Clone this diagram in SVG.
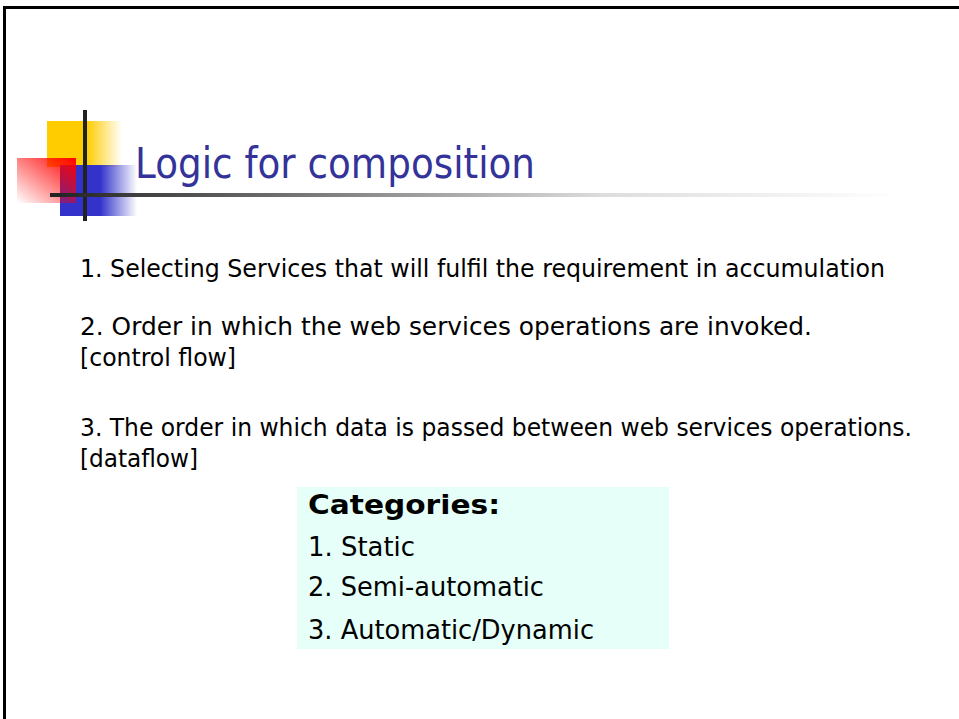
<svg xmlns="http://www.w3.org/2000/svg" width="959" height="719" viewBox="0 0 959 719">
  <style>
    .title { font-family: "DejaVu Sans", "Liberation Sans", sans-serif; font-size: 43px; fill: #333399; }
    .body { font-family: "DejaVu Sans", "Liberation Sans", sans-serif; font-size: 24px; fill: #000000; }
    .cat { font-family: "DejaVu Sans", "Liberation Sans", sans-serif; font-size: 26px; fill: #000000; }
    .bold { font-weight: bold; }
  </style>
  <defs>
    <linearGradient id="gYellow" x1="0" y1="0" x2="1" y2="0">
      <stop offset="0" stop-color="#FFCC00"/>
      <stop offset="0.53" stop-color="#FFCC00"/>
      <stop offset="1" stop-color="#FFCC00" stop-opacity="0"/>
    </linearGradient>
    <linearGradient id="gBlue" x1="0" y1="0" x2="1" y2="0">
      <stop offset="0" stop-color="#3333CC"/>
      <stop offset="0.52" stop-color="#3333CC"/>
      <stop offset="1" stop-color="#3333CC" stop-opacity="0"/>
    </linearGradient>
    <linearGradient id="gRed" x1="1" y1="0" x2="0" y2="1">
      <stop offset="0" stop-color="#FF0000"/>
      <stop offset="1" stop-color="#FF0000" stop-opacity="0"/>
    </linearGradient>
    <linearGradient id="gLine" x1="0" y1="0" x2="1" y2="0">
      <stop offset="0" stop-color="#222222"/>
      <stop offset="0.3" stop-color="#777777"/>
      <stop offset="0.65" stop-color="#dddddd"/>
      <stop offset="1" stop-color="#ffffff"/>
    </linearGradient>
  </defs>

  <rect x="0" y="0" width="959" height="719" fill="#ffffff"/>
  <path id="frame" d="M4.5,720 V7.5 H960" fill="none" stroke="#000000" stroke-width="3"/>

  <g id="decoration">
    <rect x="47" y="121" width="75" height="46" fill="url(#gYellow)"/>
    <rect x="60" y="165" width="77" height="51" fill="url(#gBlue)"/>
    <rect x="17" y="158" width="59" height="45" fill="url(#gRed)"/>
    <rect x="83" y="110" width="4" height="111" fill="#222222"/>
    <rect x="50" y="193" width="850" height="4" fill="url(#gLine)"/>
  </g>

  <g id="title">
    <text class="title" x="135" y="178" textLength="400" lengthAdjust="spacingAndGlyphs">Logic for composition</text>
  </g>

  <g id="points">
    <text class="body" x="80" y="277" textLength="805" lengthAdjust="spacingAndGlyphs">1. Selecting Services that will fulfil the requirement in accumulation</text>
    <text class="body" x="80" y="335" textLength="732" lengthAdjust="spacingAndGlyphs">2. Order in which the web services operations are invoked.</text>
    <text class="body" x="80" y="366" textLength="156" lengthAdjust="spacingAndGlyphs">[control flow]</text>
    <text class="body" x="80" y="436" textLength="832" lengthAdjust="spacingAndGlyphs">3. The order in which data is passed between web services operations.</text>
    <text class="body" x="80" y="467" textLength="118" lengthAdjust="spacingAndGlyphs">[dataflow]</text>
  </g>

  <g id="categories">
    <rect x="297" y="487" width="372" height="162" fill="#E6FFF8"/>
    <text class="cat bold" x="308" y="514" textLength="192" lengthAdjust="spacingAndGlyphs">Categories:</text>
    <text class="cat" x="308" y="556" textLength="107" lengthAdjust="spacingAndGlyphs">1. Static</text>
    <text class="cat" x="308" y="596" textLength="236" lengthAdjust="spacingAndGlyphs">2. Semi-automatic</text>
    <text class="cat" x="308" y="639" textLength="286" lengthAdjust="spacingAndGlyphs">3. Automatic/Dynamic</text>
  </g>
</svg>
